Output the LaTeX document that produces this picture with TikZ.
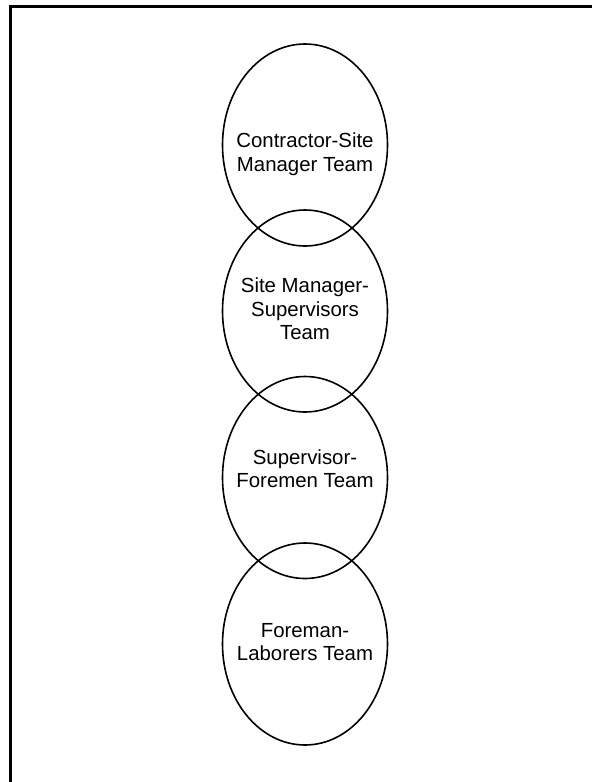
\documentclass[tikz,border=0pt]{standalone}
\usepackage{fontspec}
\setmainfont{Liberation Sans}
\usetikzlibrary{shapes.geometric}
\tikzset{team/.style={draw, ellipse, line width=1.6pt, minimum width=165pt, minimum height=202pt, inner sep=0pt},
	teamtext/.style={align=center, inner sep=0pt, font=\fontsize{20.4}{23.5}\selectfont}}

\begin{document}
\begin{tikzpicture}[x=1pt, y=-1pt]
				\useasboundingbox (0,0) rectangle (592,782);
				\draw[line width=2.2pt] (10.5,782) -- (10.5,6.5) -- (592,6.5);
				\node[team] (CS)at(305, 145) {};
				\node[team] (SMS)at(305, 311) {};
				\node[team] (SF)at(305, 477.5) {};
				\node[team] (FL)at(305, 644) {};
				\node[teamtext] (CSt)at(305, 154) {Contractor-Site\\Manager Team};
				\node[teamtext] (SMSt)at(305, 309) {Site Manager-\\Supervisors\\Team};
				\node[teamtext] (SFt)at(305, 468.5) {Supervisor-\\Foremen Team};
				\node[teamtext] (FLt)at(305, 642) {Foreman-\\Laborers Team};
			\end{tikzpicture}
\end{document}
